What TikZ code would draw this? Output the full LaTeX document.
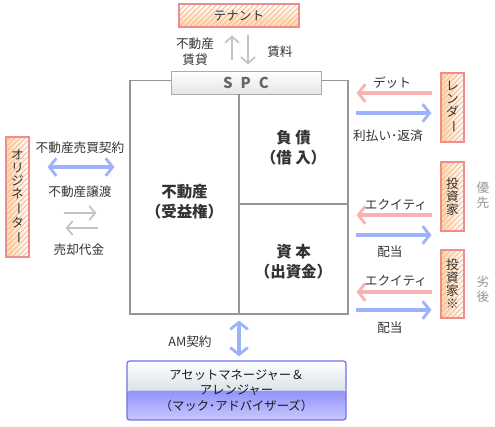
\documentclass[tikz,border=0pt]{standalone}
\usepackage{fontspec}
\setmainfont{Noto Sans CJK JP}
\usetikzlibrary{arrows.meta,patterns}
\definecolor{textdark}{RGB}{51,51,51}
\definecolor{textsoft}{RGB}{150,150,150}
\definecolor{frameline}{RGB}{150,150,150}
\definecolor{partyline}{RGB}{240,140,140}
\definecolor{partyfill}{RGB}{255,214,170}
\definecolor{partyhatch}{RGB}{245,180,140}
\definecolor{pinkflow}{RGB}{248,178,178}
\definecolor{blueflow}{RGB}{158,178,252}
\definecolor{grayflow}{RGB}{195,195,195}
\definecolor{amline}{RGB}{110,110,240}
\definecolor{amtop}{RGB}{184,200,210}
\definecolor{amlow}{RGB}{146,146,250}
\definecolor{ambot}{RGB}{200,200,255}
\newcommand\vbar{\rotatebox[origin=c]{-90}{ー}}

\begin{document}
\begin{tikzpicture}[x=0.02cm, y=-0.02cm,
    hbox/.style={draw=partyline, line width=0.6pt, inner sep=0pt,
        font=\fontsize{7.2}{9}\selectfont, text=textdark,
        path picture={
            \shade[top color=white, bottom color=partyfill]
                (path picture bounding box.north west) rectangle (path picture bounding box.south east);
            \fill[pattern=north east lines, pattern color=partyhatch]
                (path picture bounding box.north west) rectangle (path picture bounding box.south east);}},
    vbox/.style={draw=partyline, line width=0.6pt, inner sep=0pt, align=center,
        minimum width=0.46cm, font=\fontsize{7.2}{7.4}\selectfont, text=textdark,
        path picture={
            \shade[left color=partyfill, right color=white]
                (path picture bounding box.north west) rectangle (path picture bounding box.south east);
            \fill[pattern=north east lines, pattern color=partyhatch]
                (path picture bounding box.north west) rectangle (path picture bounding box.south east);}},
    cell/.style={align=center, font=\fontsize{8.8}{11.3}\selectfont\bfseries, text=textdark},
    note/.style={align=center, font=\fontsize{7.2}{9}\selectfont, text=textdark},
    rank/.style={align=center, font=\fontsize{7.2}{8.6}\selectfont, text=textsoft},
    frame/.style={draw=frameline, line width=0.6pt},
    pinkarrow/.style={-{Straight Barb[length=4pt, width=10pt, line width=1.6pt]}, draw=pinkflow, line width=2.6pt},
    bluearrow/.style={-{Straight Barb[length=4pt, width=10pt, line width=1.6pt]}, draw=blueflow, line width=2.6pt},
    bluedbl/.style={{Straight Barb[length=4pt, width=10pt, line width=1.6pt]}-{Straight Barb[length=4pt, width=10pt, line width=1.6pt]},
        draw=blueflow, line width=2.6pt},
    grayarrow/.style={-{Straight Barb[length=3.5pt, width=8pt]}, draw=grayflow, line width=1pt}]
\useasboundingbox (0,0) rectangle (495,427);

% SPC balance sheet
\node[frame, minimum width=4.36cm, minimum height=4.68cm] (spcbox) at (239,197) {};
\coordinate (split) at (239,204);
\node[draw=frameline!80, line width=0.5pt, minimum width=3cm, minimum height=0.46cm, inner sep=0pt,
      top color=white, bottom color=black!10,
      font=\fontsize{8.5}{10}\selectfont\bfseries, text=black!60] (spc) at (246,82.5) {S\hspace{4.5pt}P\hspace{4.5pt}C};
\draw[frame] (spc.south -| spcbox.center) -- (spcbox.south);
\draw[frame] (split) -- (split -| spcbox.east);
\node[cell] (prop)   at (184.5,202) {不動産\\（受益権）};
\node[cell] (debt)   at (293.5,148) {負 債\\（借 入）};
\node[cell] (equity) at (293.5,262) {資 本\\（出資金）};

% parties
\node[hbox, minimum width=2.4cm, minimum height=0.46cm] (tenant) at (239,15.5) {テナント};
\node[vbox, minimum height=2.4cm]  (orig)    at (17.5,197)   {オ\\リ\\ジ\\ネ\\\vbar\\タ\\\vbar};
\node[vbox, minimum height=1.38cm] (lender)  at (452.5,107.5) {レ\\ン\\ダ\\\vbar};
\node[vbox, minimum height=1.38cm] (senior)  at (452.5,196.5) {投\\資\\家};
\node[vbox, minimum height=1.36cm] (junior)  at (452.5,284)   {投\\資\\家\\※};
\node[draw=amline, line width=0.7pt, rounded corners=1.5pt, minimum width=4.38cm, minimum height=1.18cm,
      align=center, font=\fontsize{7}{8.8}\selectfont, text=black!90,
      path picture={
          \shade[top color=white, bottom color=amtop]
              (path picture bounding box.north west) rectangle (path picture bounding box.east);
          \shade[top color=amlow, bottom color=ambot]
              (path picture bounding box.west) rectangle (path picture bounding box.south east);}]
      (am) at (236.5,390.5) {アセットマネージャー＆\\アレンジャー\\（マック･アドバイザーズ）};

% lanes
\coordinate (upl) at (232,0);
\coordinate (dnl) at (248,0);
\coordinate (deal) at (0,167);
\coordinate (give) at (0,213);
\coordinate (take) at (0,228);
\coordinate (debtin) at (0,93);
\coordinate (debtout) at (0,113);
\coordinate (seqin) at (0,215);
\coordinate (seqout) at (0,235);
\coordinate (jeqin) at (0,292);
\coordinate (jeqout) at (0,310);

% flows
\draw[grayarrow, shorten <=6pt, shorten >=4.5pt] (spc.north -| upl) -- (tenant.south -| upl);
\draw[grayarrow, shorten <=4.5pt, shorten >=3.5pt] (tenant.south -| dnl) -- (spc.north -| dnl);
\draw[bluedbl, shorten <=0.36cm, shorten >=0.3cm] (orig.east |- deal) -- (spcbox.west |- deal);
\draw[grayarrow, shorten <=0.68cm, shorten >=0.66cm] (orig.east |- give) -- (spcbox.west |- give);
\draw[grayarrow, shorten <=0.64cm, shorten >=0.72cm] (spcbox.west |- take) -- (orig.east |- take);
\draw[pinkarrow, shorten <=0.16cm, shorten >=0.16cm] (lender.west |- debtin) -- (spcbox.east |- debtin);
\draw[bluearrow, shorten <=0.14cm, shorten >=0.18cm] (spcbox.east |- debtout) -- (lender.west |- debtout);
\draw[pinkarrow, shorten <=0.16cm, shorten >=0.16cm] (senior.west |- seqin) -- (spcbox.east |- seqin);
\draw[bluearrow, shorten <=0.14cm, shorten >=0.18cm] (spcbox.east |- seqout) -- (senior.west |- seqout);
\draw[pinkarrow, shorten <=0.16cm, shorten >=0.16cm] (junior.west |- jeqin) -- (spcbox.east |- jeqin);
\draw[bluearrow, shorten <=0.14cm, shorten >=0.18cm] (spcbox.east |- jeqout) -- (junior.west |- jeqout);
\draw[bluedbl, shorten <=0.12cm, shorten >=0.08cm] (spcbox.south -| split) -- (am.north -| split);

% flow labels
\node[note] (lease)  at (195,52)  {不動産\\賃貸};
\node[note] (rent)   at (280,52)  {賃料};
\node[note] (salec)  at (80,148)  {不動産売買契約};
\node[note] (trans)  at (80,192)  {不動産譲渡};
\node[note] (price)  at (79,250)  {売却代金};
\node[note] (debtl)  at (392,83)  {デット};
\node[note] (repay)  at (388,136) {利払い･返済};
\node[note] (seql)   at (396,205) {エクイティ};
\node[note] (sdiv)   at (390,252) {配当};
\node[note] (jeql)   at (396,281) {エクイティ};
\node[note] (jdiv)   at (390,328) {配当};
\node[note] (amc)    at (190,342) {AM契約};
\node[rank] (pri)    at (483,195) {優\\先};
\node[rank] (sub)    at (483,289) {劣\\後};
\end{tikzpicture}
\end{document}
